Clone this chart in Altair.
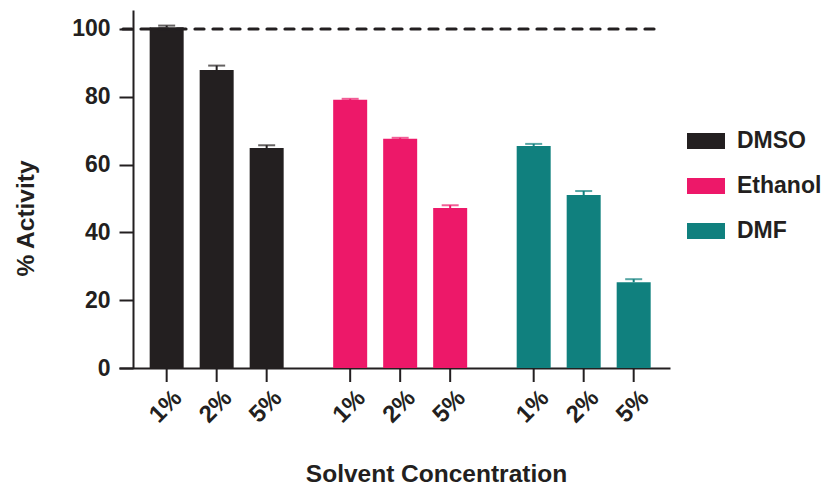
import altair as alt
import pandas as pd

solvents = ["DMSO", "Ethanol", "DMF"]
concs = ["1%", "2%", "5%"]
dmso_vals = [100.5, 87.9, 64.9]
dmso_err = [0.5, 1.3, 0.8]
ethanol_vals = [79.1, 67.6, 47.2]
ethanol_err = [0.3, 0.3, 0.8]
dmf_vals = [65.5, 51.0, 25.3]
dmf_err = [0.6, 1.2, 0.9]
colors = ["#231F20", "#ED1869", "#10807E"]
y_ticks = [0, 20, 40, 60, 80, 100]
ref_value = 100

rows = []
for s, vals, errs in [("DMSO", dmso_vals, dmso_err), ("Ethanol", ethanol_vals, ethanol_err), ("DMF", dmf_vals, dmf_err)]:
    for c, v, e in zip(concs, vals, errs):
        rows.append({"solvent": s, "conc": c, "value": v, "top": v + e})
df = pd.DataFrame(rows)

W, H = 551, 358
FONT = "Liberation Sans"
INK = "#231F20"

x_enc = alt.X("solvent:N", sort=solvents,
              scale=alt.Scale(paddingInner=0.1826, paddingOuter=0.0926, align=0.667),
              axis=alt.Axis(labels=False, ticks=False, domainWidth=2, domainColor=INK,
                            title="Solvent Concentration", titleFont=FONT, titleFontSize=24.5,
                            titleFontWeight="bold", titleColor=INK,
                            titleX=317, titleY=113, titleBaseline="alphabetic", titleAlign="center"))
xo_enc = alt.XOffset("conc:N", sort=concs, scale=alt.Scale(paddingInner=0.32, paddingOuter=0.16))
color_enc = alt.Color("solvent:N", sort=solvents,
                      scale=alt.Scale(domain=solvents, range=colors),
                      legend=alt.Legend(title=None, orient="none", legendX=568, legendY=112,
                                        symbolType="M-1,-0.42L1,-0.42L1,0.42L-1,0.42Z",
                                        symbolSize=1444, symbolStrokeWidth=0,
                                        labelFont=FONT, labelFontSize=23, labelFontWeight="bold",
                                        labelColor=INK, labelOffset=12, rowPadding=14,
                                        padding=0))
y_enc = alt.Y("value:Q", scale=alt.Scale(domain=[0, 105.6], nice=False, zero=True),
              axis=alt.Axis(values=y_ticks, offset=-14, tickSize=14, tickWidth=2, tickColor=INK,
                            domainWidth=2, domainColor=INK, grid=False,
                            labelFont=FONT, labelFontSize=23, labelFontWeight="bold",
                            labelColor=INK, labelPadding=9,
                            title="% Activity", titleFont=FONT, titleFontSize=24.5,
                            titleFontWeight="bold", titleColor=INK,
                            titleAngle=270, titleX=-100, titleY=208,
                            titleAlign="center", titleBaseline="alphabetic"))

base = alt.Chart(df)
bars = base.mark_bar().encode(x=x_enc, xOffset=xo_enc, y=y_enc, color=color_enc)
err = base.mark_rule(strokeWidth=2).encode(
    x=alt.X("solvent:N", sort=solvents), xOffset=xo_enc,
    y="value:Q", y2="top:Q",
    color=alt.Color("solvent:N", sort=solvents, legend=None))
caps = base.mark_tick(thickness=2, size=17, orient="horizontal").encode(
    x=alt.X("solvent:N", sort=solvents), xOffset=xo_enc, y="top:Q",
    color=alt.Color("solvent:N", sort=solvents, legend=None))
ticks = base.mark_rule(strokeWidth=2, color=INK).encode(
    x=alt.X("solvent:N", sort=solvents), xOffset=xo_enc,
    y=alt.value(H), y2=alt.value(H + 14))
labels = base.mark_text(angle=315, align="center", baseline="middle", font=FONT,
                        fontSize=24, fontWeight="bold", color=INK, dx=-1).encode(
    x=alt.X("solvent:N", sort=solvents), xOffset=xo_enc,
    y=alt.value(H + 38), text="conc:N")
ref = alt.Chart(pd.DataFrame({"y": [ref_value]})).mark_rule(
    strokeDash=[9, 9], strokeWidth=3.2, strokeCap="round", color=INK).encode(
    y="y:Q", x=alt.value(4), x2=alt.value(W - 12))

chart = alt.layer(bars, err, caps, ticks, labels, ref).properties(
    width=W, height=H,
    autosize=alt.AutoSizeParams(type="none"),
    padding={"left": 111, "top": 2, "right": 152, "bottom": 135},
).configure_view(stroke=None)

chart.save("out.html", embed_options={"renderer": "svg", "actions": False})
